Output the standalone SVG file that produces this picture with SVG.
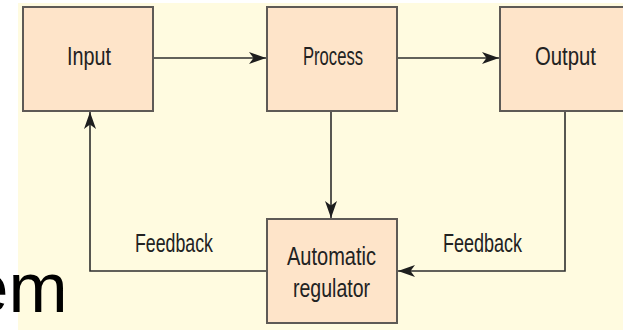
<svg xmlns="http://www.w3.org/2000/svg" width="623" height="330" viewBox="0 0 623 330">
  <style>
    .panel { fill: #fffbe0; }
    .box { fill: #fee4c9; stroke: #5e5a56; stroke-width: 2; }
    .wire { fill: none; stroke: #2e2e2e; stroke-width: 1.6; }
    .lbl { font-family: "Liberation Sans Narrow", "Liberation Sans", Arial, sans-serif; font-size: 25px; fill: #222222; text-anchor: middle; }
    .title { font-family: "Liberation Sans", Arial, sans-serif; font-size: 71px; fill: #000; }
  </style>
  <defs>
    <marker id="arrow" markerUnits="userSpaceOnUse" markerWidth="18" markerHeight="14" viewBox="0 0 18 14" refX="17" refY="7" orient="auto">
      <path d="M0,1 L17,7 L0,13 L4.5,7 Z" fill="#1e1e1e"/>
    </marker>
  </defs>

  <!-- background panel -->
  <rect x="0" y="0" width="623" height="330" fill="#ffffff"/>
  <rect class="panel" x="18" y="3" width="605" height="327"/>

  <!-- tail of the slide title running in from the left -->
  <text class="title" x="-31" y="312">em</text>

  <!-- connectors -->
  <g id="connectors">
    <path class="wire" d="M153,58 H266" marker-end="url(#arrow)"/>
    <path class="wire" d="M397,58 H499" marker-end="url(#arrow)"/>
    <path class="wire" d="M331,111 V218" marker-end="url(#arrow)"/>
    <path class="wire" d="M565,111 V271 H398" marker-end="url(#arrow)"/>
    <path class="wire" d="M267,271 H90 V112" marker-end="url(#arrow)"/>
    <text class="lbl" x="174" y="252" textLength="78" lengthAdjust="spacingAndGlyphs">Feedback</text>
    <text class="lbl" x="482.5" y="252" textLength="79" lengthAdjust="spacingAndGlyphs">Feedback</text>
  </g>

  <g id="input">
    <rect class="box" x="23" y="7" width="130" height="104"/>
    <text class="lbl" x="89" y="65" textLength="44" lengthAdjust="spacingAndGlyphs">Input</text>
  </g>

  <g id="process">
    <rect class="box" x="267" y="7" width="130" height="104"/>
    <text class="lbl" x="333" y="65" textLength="60" lengthAdjust="spacingAndGlyphs">Process</text>
  </g>

  <g id="output">
    <rect class="box" x="500" y="7" width="135" height="104"/>
    <text class="lbl" x="565.5" y="65" textLength="61" lengthAdjust="spacingAndGlyphs">Output</text>
  </g>

  <g id="regulator">
    <rect class="box" x="267" y="219" width="130" height="104"/>
    <text class="lbl" x="331.5" y="265" textLength="89" lengthAdjust="spacingAndGlyphs">Automatic</text>
    <text class="lbl" x="331.5" y="297" textLength="77" lengthAdjust="spacingAndGlyphs">regulator</text>
  </g>
</svg>
